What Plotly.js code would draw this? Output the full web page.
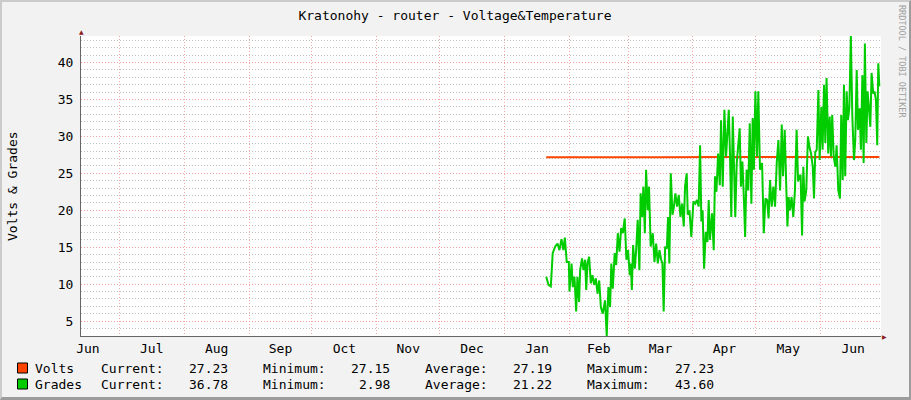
<!DOCTYPE html>
<html>
<head>
<meta charset="utf-8">
<script src="https://cdn.plot.ly/plotly-3.0.1.min.js"></script>
<style>
  html, body { margin: 0; padding: 0; background: #f2f2f2; }
  #wrap { position: relative; width: 911px; height: 400px; }
  #chart { position: absolute; left: 0; top: 0; width: 911px; height: 400px; }
  #frame { position: absolute; left: 0; top: 0; width: 911px; height: 400px; box-sizing: border-box;
           border-top: 2px solid #cbcbcb; border-left: 2px solid #cbcbcb;
           border-right: 2px solid #9c9c9c; border-bottom: 3px solid #9c9c9c; pointer-events: none; }
</style>
</head>
<body>
<div id="wrap"><div id="chart"></div><div id="frame"></div></div>
<script>
// ---- data (day numbers are days since 2010-01-01) ----
const titleText = 'Kratonohy - router - Voltage&Temperature';
const yTitle = 'Volts & Grades';
const seriesNames = ['Volts', 'Grades'];
const seriesColors = ['#ff4400', '#00cc00'];
const statLabels = ['Current:', 'Minimum:', 'Average:', 'Maximum:'];
const statCurrent = [27.23, 36.78];
const statMinimum = [27.15, 2.98];
const statAverage = [27.19, 21.22];
const statMaximum = [27.23, 43.60];

const voltsDay = [19.9, 45.0, 75.0, 105.0, 135.0, 160.0, 179.0];
const voltsVal = [27.18, 27.15, 27.19, 27.20, 27.21, 27.19, 27.23];

const gradesDay = [
  19.9, 21.0, 22.1, 23.0, 24.2, 25.3, 26.2, 27.2, 28.1, 28.8,
  29.7, 30.7, 31.0, 32.0, 32.6, 33.4, 34.2, 34.8, 35.6, 36.1,
  37.0, 37.7, 38.5, 39.0, 39.6, 40.4, 41.2, 42.0, 42.8, 43.6,
  44.4, 45.2, 46.0, 46.9, 48.0, 48.8, 49.6, 50.4, 51.0, 51.7,
  52.6, 53.3, 54.1, 54.9, 55.7, 56.5, 57.4, 58.2, 59.0, 59.8,
  60.3, 60.8, 61.4, 62.2, 62.8, 63.6, 64.4, 65.0, 65.7, 66.3,
  67.0, 67.6, 68.4, 69.0, 69.8, 70.8, 71.6, 72.4, 73.2, 74.0,
  74.8, 75.4, 76.0, 76.7, 77.5, 78.1, 78.7, 79.4, 80.2, 80.8,
  81.6, 82.4, 83.2, 84.0, 84.8, 85.6, 86.2, 87.0, 87.5, 88.3,
  89.2, 90.2, 91.1, 91.9, 92.7, 93.4, 94.0, 94.6, 95.3, 96.1,
  96.9, 97.5, 98.1, 99.1, 99.9, 100.5, 101.2, 102.0, 102.8, 103.4,
  104.2, 105.0, 105.8, 106.4, 107.1, 107.7, 108.3, 109.0, 109.6, 110.2,
  110.9, 111.7, 112.3, 112.9, 113.6, 114.4, 114.9, 115.6, 116.4, 117.1,
  117.9, 118.5, 119.1, 119.8, 120.6, 121.2, 122.0, 123.0, 123.8, 124.6,
  125.4, 126.1, 126.8, 127.6, 128.4, 129.2, 130.0, 130.8, 131.6, 132.4,
  133.0, 133.8, 134.4, 135.1, 135.7, 136.3, 137.1, 137.9, 138.7, 139.5,
  140.2, 140.8, 141.4, 142.1, 142.7, 143.3, 144.1, 144.9, 145.6, 146.4,
  147.2, 147.8, 148.4, 149.1, 149.9, 150.5, 151.3, 151.9, 152.6, 153.2,
  153.8, 154.6, 155.3, 155.9, 156.5, 157.2, 158.0, 158.6, 159.4, 160.2,
  160.8, 161.5, 162.1, 162.7, 163.4, 164.0, 164.7, 165.4, 166.1, 166.9,
  167.5, 168.2, 168.8, 169.6, 170.2, 170.9, 171.5, 172.1, 172.8, 173.4,
  174.0, 174.7, 175.3, 176.1, 176.7, 177.4, 178.0, 178.5, 179.0
];
const gradesVal = [
  11.0, 9.9, 9.7, 14.2, 15.1, 15.5, 14.6, 16.1, 14.6, 16.3,
  13.0, 13.0, 9.0, 12.8, 9.6, 11.0, 6.3, 11.0, 7.6, 11.9,
  13.5, 11.9, 13.3, 9.2, 12.8, 13.7, 10.1, 11.2, 9.9, 10.8,
  8.7, 10.5, 6.9, 6.0, 7.8, 2.98, 9.6, 6.9, 12.8, 9.4,
  14.2, 12.6, 16.9, 14.4, 17.6, 16.9, 18.9, 13.3, 14.6, 11.2,
  12.8, 9.2, 15.3, 12.1, 14.4, 18.7, 11.9, 22.3, 19.1, 23.2,
  16.9, 25.5, 20.0, 23.2, 15.1, 16.9, 13.0, 15.5, 12.8, 14.6,
  13.3, 12.8, 6.3, 15.1, 14.8, 19.1, 12.8, 25.0, 19.4, 20.3,
  22.3, 20.5, 22.1, 19.1, 20.9, 17.8, 23.2, 25.0, 19.4, 20.0,
  16.4, 21.2, 20.9, 21.4, 20.5, 28.8, 18.5, 20.0, 12.1, 17.1,
  15.7, 21.4, 16.0, 19.6, 14.6, 24.6, 22.5, 27.7, 23.4, 32.2,
  23.2, 33.6, 27.3, 30.0, 33.6, 27.3, 19.1, 32.7, 25.0, 19.1,
  26.4, 29.7, 31.1, 23.2, 26.6, 20.9, 16.4, 25.5, 22.7, 31.8,
  20.9, 32.5, 25.5, 36.1, 27.3, 36.1, 25.5, 26.4, 16.9, 21.6,
  21.4, 18.9, 24.1, 20.5, 23.2, 20.5, 26.4, 29.5, 22.7, 31.6,
  24.6, 30.9, 23.6, 17.8, 21.8, 20.0, 21.8, 19.1, 22.7, 30.9,
  23.9, 24.6, 24.8, 16.6, 25.9, 21.2, 22.7, 30.0, 28.6, 27.7,
  25.9, 21.6, 27.9, 28.2, 36.3, 26.8, 34.0, 28.2, 37.0, 29.1,
  37.9, 27.7, 32.7, 27.3, 32.9, 27.3, 25.9, 28.8, 22.7, 21.6,
  32.9, 24.1, 37.0, 24.6, 36.1, 32.2, 34.0, 43.6, 32.7, 26.8,
  29.5, 39.0, 30.9, 33.8, 28.2, 38.3, 26.4, 42.6, 29.1, 36.1,
  34.0, 31.3, 38.6, 35.8, 36.1, 34.9, 28.8, 39.9, 36.78
];

const xRangeDays = [-202.3, 179.8];
const yRange = [2.98, 43.6];

// ---- helpers ----
const EPOCH = Date.UTC(2010, 0, 1);
const toDate = d => new Date(EPOCH + d * 86400000).toISOString().replace('T', ' ').replace('Z', '');

const MONO = 'DejaVu Sans Mono, monospace';
const L = 81, R = 881, T = 36, B = 336;
const px = x => (x - L) / (R - L);
const py = y => (B - y) / (B - T);

const traces = [
  { type: 'scatter', mode: 'lines', name: seriesNames[0],
    x: voltsDay.map(toDate), y: voltsVal,
    line: { color: seriesColors[0], width: 2 } },
  { type: 'scatter', mode: 'lines', name: seriesNames[1],
    x: gradesDay.map(toDate), y: gradesVal,
    line: { color: seriesColors[1], width: 2 } }
];

const font = (size, color) => ({ family: MONO, size: size, color: color || '#000' });

const annotations = [
  { text: yTitle, textangle: -90, xref: 'paper', yref: 'paper', x: px(12), y: 0.5,
    xanchor: 'center', yanchor: 'middle', showarrow: false, font: font(13) },
  { text: 'RRDTOOL / TOBI OETIKER', textangle: 90, xref: 'paper', yref: 'paper',
    x: px(902), y: py(61), xanchor: 'center', yanchor: 'middle', showarrow: false,
    font: font(8.5, '#a0a0a0') },
  { text: '\u25B2', xref: 'paper', yref: 'paper', x: px(81), y: py(31),
    xanchor: 'center', yanchor: 'middle', showarrow: false, font: { family: 'DejaVu Sans', size: 6, color: '#8b1a1a' } },
  { text: '\u25B6', xref: 'paper', yref: 'paper', x: px(885), y: py(336),
    xanchor: 'center', yanchor: 'middle', showarrow: false, font: { family: 'DejaVu Sans', size: 6, color: '#8b1a1a' } }
];

const shapes = [];
const rowY = [368, 384];
const statCols = [statCurrent, statMinimum, statAverage, statMaximum];
const labelX = [100.7, 262.7, 424.7, 586.7];
const numEndX = [228, 390, 552, 714];
for (let i = 0; i < seriesNames.length; i++) {
  const yy = py(rowY[i]);
  shapes.push({ type: 'rect', xref: 'paper', yref: 'paper',
    x0: px(17.5), x1: px(27.5), y0: py(rowY[i] - 5), y1: py(rowY[i] + 5),
    fillcolor: seriesColors[i], line: { color: '#000', width: 1 } });
  annotations.push({ text: seriesNames[i], xref: 'paper', yref: 'paper', x: px(33), y: yy,
    xanchor: 'left', yanchor: 'middle', showarrow: false, font: font(13) });
  for (let c = 0; c < 4; c++) {
    annotations.push({ text: statLabels[c], xref: 'paper', yref: 'paper', x: px(labelX[c] - 2), y: yy,
      xanchor: 'left', yanchor: 'middle', showarrow: false, font: font(13) });
    annotations.push({ text: statCols[c][i].toFixed(2), xref: 'paper', yref: 'paper', x: px(numEndX[c] + 2), y: yy,
      xanchor: 'right', yanchor: 'middle', showarrow: false, font: font(13) });
  }
}

const layout = {
  width: 911, height: 400,
  margin: { l: L, r: 911 - R, t: T, b: 400 - B, pad: 0 },
  paper_bgcolor: '#f2f2f2', plot_bgcolor: '#ffffff',
  showlegend: false,
  title: { text: titleText, font: font(13), xref: 'container', yref: 'container',
           x: 455 / 911, y: 1 - 15 / 400, xanchor: 'center', yanchor: 'middle' },
  xaxis: {
    type: 'date', range: xRangeDays.map(toDate),
    tick0: '2009-06-01', dtick: 'M1', tickformat: '%b', ticklabelmode: 'period',
    showgrid: true, gridcolor: '#f4a8a8', griddash: '1px,2px', gridwidth: 1,
    showline: true, linecolor: '#666666', linewidth: 1,
    ticks: '', tickfont: font(13), zeroline: false, fixedrange: true
  },
  yaxis: {
    range: yRange, tick0: 0, dtick: 5,
    showgrid: true, gridcolor: '#f0a0a0', griddash: '1px,2px', gridwidth: 1,
    minor: { dtick: 1, tick0: 0, showgrid: true, gridcolor: '#c0c0c0', griddash: '1px,2px', gridwidth: 1 },
    showline: true, linecolor: '#666666', linewidth: 1,
    ticks: '', ticklabelstandoff: 4, tickfont: font(13), zeroline: false, fixedrange: true
  },
  annotations: annotations,
  shapes: shapes
};

Plotly.newPlot('chart', traces, layout, { staticPlot: true, displayModeBar: false });
</script>
</body>
</html>
